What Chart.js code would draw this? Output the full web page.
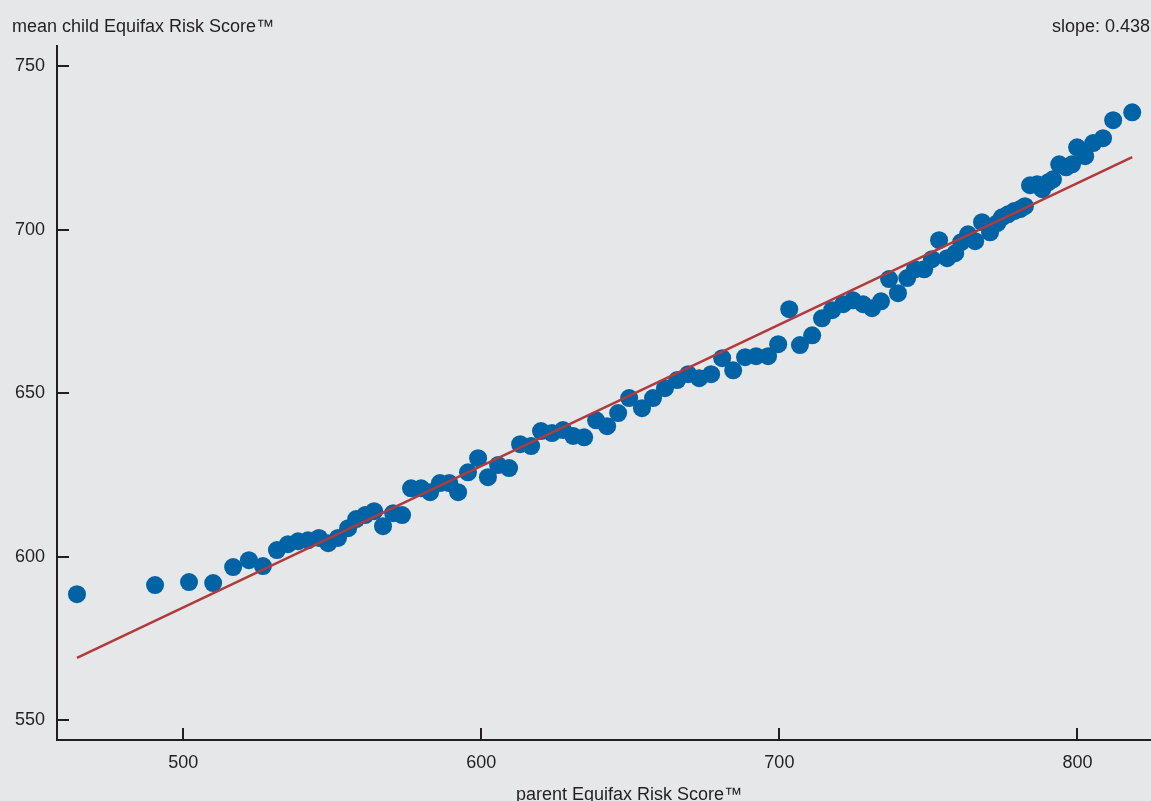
<!DOCTYPE html>
<html>
<head>
<meta charset="utf-8">
<title>Parent vs child Equifax Risk Score</title>
<script src="https://cdn.jsdelivr.net/npm/chart.js@4"></script>
<style>
  html, body { margin: 0; padding: 0; background: #e6e7e9; }
  #wrap { width: 1151px; height: 801px; }
</style>
</head>
<body>
<div id="wrap"><canvas id="grafica" width="1151" height="801"></canvas></div>
<script>
// =============================
// Datos
// =============================
const parentScore = [
  464.3, 490.5, 501.9, 510.0, 516.7, 522.0, 526.7, 531.4, 535.1, 538.5,
  541.8, 545.5, 548.6, 551.9, 555.3, 558.0, 561.0, 564.0, 567.0, 570.4,
  573.4, 576.4, 579.8, 582.8, 586.1, 589.2, 592.2, 595.5, 598.9, 602.2,
  605.6, 609.3, 613.0, 616.7, 620.0, 623.7, 627.4, 630.8, 634.5, 638.5,
  642.2, 645.9, 649.6, 653.9, 657.6, 661.6, 665.7, 669.4, 673.1, 677.1,
  680.8, 684.5, 688.5, 692.2, 696.2, 699.6, 703.3, 706.9, 711.0, 714.3,
  717.7, 721.4, 724.7, 728.1, 731.1, 734.1, 736.8, 739.8, 742.9, 745.5,
  748.6, 751.2, 753.6, 756.3, 759.0, 761.0, 763.3, 765.7, 768.0, 770.7,
  773.1, 774.7, 776.7, 778.8, 780.8, 782.4, 784.1, 786.5, 788.2, 790.2,
  791.8, 793.9, 796.2, 798.2, 799.9, 802.6, 805.3, 808.6, 812.0, 818.4
];
const childScore = [
  588.5, 591.3, 592.2, 591.9, 596.8, 598.9, 597.1, 602.0, 603.8, 604.7,
  605.0, 605.7, 604.1, 605.7, 608.7, 611.5, 612.7, 613.9, 609.3, 613.3,
  612.7, 620.9, 620.9, 619.7, 622.5, 622.5, 619.7, 625.8, 630.1, 624.3,
  628.0, 627.1, 634.4, 633.8, 638.4, 637.8, 638.7, 636.9, 636.5, 641.7,
  639.9, 643.9, 648.5, 645.4, 648.5, 651.5, 654.0, 655.8, 654.6, 655.8,
  660.7, 657.0, 661.0, 661.3, 661.3, 665.0, 675.7, 664.7, 667.7, 672.9,
  675.4, 677.2, 678.4, 677.2, 676.0, 678.1, 684.9, 680.6, 685.2, 687.9,
  687.9, 691.0, 696.8, 691.3, 692.8, 696.2, 698.6, 696.5, 702.3, 699.2,
  702.0, 703.8, 704.7, 705.7, 706.3, 707.2, 713.6, 713.9, 712.4, 714.5,
  715.4, 720.0, 719.1, 720.0, 725.2, 722.5, 726.5, 728.0, 733.5, 735.9
];
// recta de ajuste (extremos)
const fitX = [464.3, 818.4];
const fitY = [569.0, 722.2];
const xTicks = [500, 600, 700, 800];
const yTicks = [550, 600, 650, 700, 750];
const slopeLabel = "slope: 0.438";
const yTitle = "mean child Equifax Risk Score™";
const xTitle = "parent Equifax Risk Score™";

const INK = "#231f20";
const FONT = "'Liberation Sans', Arial, sans-serif";

// ticks hacia dentro + textos
const extras = {
  id: "extras",
  beforeDraw(chart) {
    const c = chart.ctx;
    c.save();
    c.fillStyle = "#e6e7e9";
    c.fillRect(0, 0, chart.width, chart.height);
    c.restore();
  },
  afterDraw(chart) {
    const c = chart.ctx;
    const xs = chart.scales.x, ys = chart.scales.y;
    const area = chart.chartArea;
    c.save();
    c.strokeStyle = INK;
    c.lineWidth = 2;
    xTicks.forEach(v => {
      const px = Math.round(xs.getPixelForValue(v));
      c.beginPath();
      c.moveTo(px, area.bottom);
      c.lineTo(px, area.bottom - 12);
      c.stroke();
    });
    yTicks.forEach(v => {
      const py = Math.round(ys.getPixelForValue(v));
      c.beginPath();
      c.moveTo(area.left, py);
      c.lineTo(area.left + 12, py);
      c.stroke();
    });
    c.fillStyle = INK;
    c.font = "18px " + FONT;
    c.textBaseline = "alphabetic";
    c.textAlign = "left";
    c.fillText(yTitle, 12, 32);
    c.fillText(xTitle, 516, 800);
    c.textAlign = "right";
    c.fillText(slopeLabel, 1150, 32);
    c.restore();
  }
};

new Chart(document.getElementById("grafica"), {
  type: "scatter",
  data: {
    datasets: [
      {
        type: "line",
        label: "ajuste",
        data: fitX.map((x, i) => ({ x, y: fitY[i] })),
        borderColor: "#b13a3d",
        borderWidth: 2.5,
        pointRadius: 0,
        fill: false,
        order: 0
      },
      {
        label: "mean child score",
        data: parentScore.map((x, i) => ({ x, y: childScore[i] })),
        backgroundColor: "#0063a5",
        borderWidth: 0,
        pointRadius: 9,
        pointHoverRadius: 9,
        order: 1
      }
    ]
  },
  options: {
    responsive: false,
    animation: false,
    layout: { autoPadding: false, padding: { top: 46, right: 0, left: 0, bottom: 0 } },
    plugins: {
      legend: { display: false },
      tooltip: { enabled: false }
    },
    scales: {
      x: {
        type: "linear",
        min: 457.6,
        max: 824.7,
        afterBuildTicks: s => { s.ticks = xTicks.map(v => ({ value: v })); },
        afterFit: s => { s.height = 61; },
        grid: { display: false, drawTicks: false },
        border: { display: true, color: INK, width: 2 },
        ticks: { color: INK, font: { family: FONT, size: 18 }, padding: 12, maxRotation: 0 }
      },
      y: {
        type: "linear",
        min: 543.9,
        max: 756.2,
        afterBuildTicks: s => { s.ticks = yTicks.map(v => ({ value: v })); },
        afterFit: s => { s.width = 57; },
        grid: { display: false, drawTicks: false },
        border: { display: true, color: INK, width: 2 },
        ticks: { color: INK, font: { family: FONT, size: 18 }, padding: 12 }
      }
    }
  },
  plugins: [extras]
});
</script>
</body>
</html>
